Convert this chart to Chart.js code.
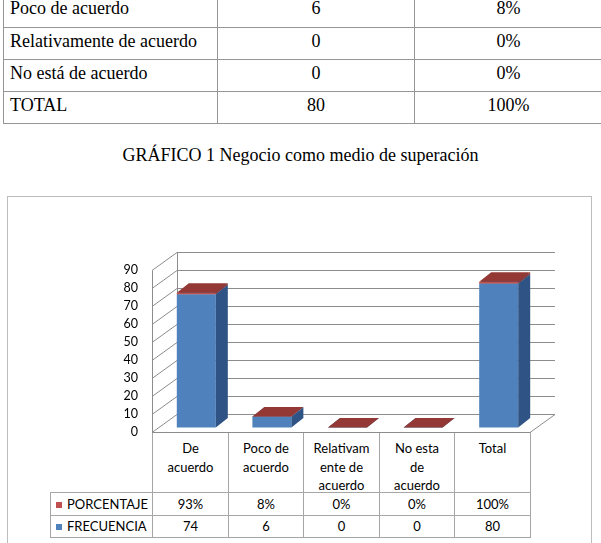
<!DOCTYPE html>
<html>
<head>
<meta charset="utf-8">
<script src="https://cdn.jsdelivr.net/npm/chart.js@4/dist/chart.umd.min.js"></script>
<style>
  html, body { margin: 0; padding: 0; background: #fff; }
  body { position: relative; width: 601px; height: 543px; overflow: hidden; }
  .cell { position: absolute; box-sizing: border-box; border: 1px solid #969696; }
  .doc { font-family: "Liberation Serif", "Times New Roman", serif; font-size: 18px; line-height: 20px; color: #000; padding-top: 3px; }
  .xl { font-family: Lato, "Open Sans", sans-serif; font-size: 13px; color: #000; border-color: #a6a6a6; text-align: center; }
  #caption { position: absolute; left: 0; top: 145px; width: 601px; text-align: center;
             font-family: "Liberation Serif", "Times New Roman", serif; font-size: 18px; line-height: 20px; }
  #chartBox { position: absolute; left: 7px; top: 196px; width: 585px; height: 400px;
              box-sizing: border-box; border: 1px solid #bdbdbd; background: #fff; }
  #chart { position: absolute; left: 0; top: 0; }
  .key { display: inline-block; width: 6px; height: 6px; margin-right: 5px; vertical-align: 1px; }
</style>
</head>
<body>
<div id="docTable"></div>
<div id="caption">GRÁFICO 1 Negocio como medio de superación</div>
<div id="chartBox"></div>
<div id="dataTable"></div>
<canvas id="chart" width="601" height="543"></canvas>

<script>
// Chart data
const categories = ['De acuerdo', 'Poco de acuerdo', 'Relativamente de acuerdo', 'No esta de acuerdo', 'Total'];
const categoryLines = [['De', 'acuerdo'], ['Poco de', 'acuerdo'], ['Relativam', 'ente de', 'acuerdo'], ['No esta', 'de', 'acuerdo'], ['Total']];
const frecuencia = [74, 6, 0, 0, 80];
const porcentaje = [0.93, 0.08, 0, 0, 1.00];
const yTicks = { min: 0, max: 90, step: 10 };

// Document table rows above the chart
const docRows = [
    ['Poco de acuerdo', '6', '8%'],
    ['Relativamente de acuerdo', '0', '0%'],
    ['No está de acuerdo', '0', '0%'],
    ['TOTAL', '80', '100%']
];

// 3D look: wall depth, bar offset and bar depth
const WALL_DX = 25, WALL_DY = -18;
const BAR_OFF_X = 6.5, BAR_OFF_Y = -4.5;
const BAR_DX = 12, BAR_DY = -9.5;
const GRID_COLOR = '#8c8c8c';

function cell(parent, x0, y0, x1, y1, html, cls, extra) {
    const d = document.createElement('div');
    d.className = 'cell ' + cls;
    d.style.left = x0 + 'px';
    d.style.top = y0 + 'px';
    d.style.width = (x1 - x0 + 1) + 'px';
    d.style.height = (y1 - y0 + 1) + 'px';
    if (extra) Object.assign(d.style, extra);
    d.innerHTML = html;
    parent.appendChild(d);
    return d;
}

// Build document table
(function () {
    const host = document.getElementById('docTable');
    const rowY = [-6, 27, 59, 91, 123];
    const colX = [3, 217, 414, 602];
    docRows.forEach((row, r) => {
        row.forEach((txt, c) => {
            cell(host, colX[c], rowY[r], colX[c + 1], rowY[r + 1], txt, 'doc',
                c === 0 ? { paddingLeft: '6px', textAlign: 'left' } : { textAlign: 'center' });
        });
    });
})();

const box3d = {
    id: 'box3d',
    beforeDatasetsDraw(chart) {
        const ctx = chart.ctx;
        const y = chart.scales.y;
        const area = chart.chartArea;
        const l = area.left, r = area.right;
        ctx.save();
        ctx.strokeStyle = GRID_COLOR;
        ctx.lineWidth = 1;
        ctx.beginPath();
        for (let v = yTicks.min; v <= yTicks.max; v += yTicks.step) {
            const py = Math.round(y.getPixelForValue(v)) + 0.5;
            // back wall line
            ctx.moveTo(l + WALL_DX, py + WALL_DY);
            ctx.lineTo(r + WALL_DX, py + WALL_DY);
            // side wall line
            ctx.moveTo(l, py);
            ctx.lineTo(l + WALL_DX, py + WALL_DY);
        }
        const top = Math.round(y.getPixelForValue(yTicks.max)) + 0.5;
        const base = Math.round(y.getPixelForValue(0)) + 0.5;
        // side wall edges
        ctx.moveTo(l + 0.5, top);
        ctx.lineTo(l + 0.5, base);
        ctx.moveTo(l + WALL_DX + 0.5, top + WALL_DY);
        ctx.lineTo(l + WALL_DX + 0.5, base + WALL_DY);
        // floor
        ctx.moveTo(l, base);
        ctx.lineTo(r, base);
        ctx.lineTo(r + WALL_DX, base + WALL_DY);
        ctx.stroke();
        ctx.restore();
    },
    beforeDatasetDraw() {
        return false; // drawn below, bottom segment first
    },
    afterDatasetsDraw(chart) {
        const ctx = chart.ctx;
        ctx.save();
        ctx.translate(BAR_OFF_X, BAR_OFF_Y);
        chart.getSortedVisibleDatasetMetas().forEach(meta => {
            const ds = chart.data.datasets[meta.index];
            meta.controller.draw();
            meta.data.forEach(bar => {
                const p = bar.getProps(['x', 'y', 'base', 'width'], true);
                const left = p.x - p.width / 2, right = p.x + p.width / 2;
                const t = Math.min(p.y, p.base), b = Math.max(p.y, p.base);
                if (b - t > 0.2) {
                    ctx.fillStyle = ds.sideColor;
                    ctx.beginPath();
                    ctx.moveTo(right, t);
                    ctx.lineTo(right + BAR_DX, t + BAR_DY);
                    ctx.lineTo(right + BAR_DX, b + BAR_DY);
                    ctx.lineTo(right, b);
                    ctx.closePath();
                    ctx.fill();
                }
                ctx.fillStyle = ds.topColor;
                ctx.beginPath();
                ctx.moveTo(left, t);
                ctx.lineTo(left + BAR_DX, t + BAR_DY);
                ctx.lineTo(right + BAR_DX, t + BAR_DY);
                ctx.lineTo(right, t);
                ctx.closePath();
                ctx.fill();
            });
        });
        ctx.restore();
    }
};

Chart.defaults.font.family = 'Lato, "Open Sans", sans-serif';

const chart = new Chart(document.getElementById('chart'), {
    type: 'bar',
    data: {
        labels: categories,
        datasets: [
            {
                label: 'FRECUENCIA',
                data: frecuencia,
                backgroundColor: '#4f81bd',
                sideColor: '#2f5384',
                topColor: '#3d6aa0'
            },
            {
                label: 'PORCENTAJE',
                data: porcentaje,
                backgroundColor: '#c0504d',
                sideColor: '#8a3431',
                topColor: '#933835'
            }
        ]
    },
    options: {
        responsive: false,
        animation: false,
        layout: { padding: { left: 0, top: 270, right: 71, bottom: 111 } },
        datasets: { bar: { categoryPercentage: 1, barPercentage: 0.516, borderWidth: 0 } },
        plugins: { legend: { display: false }, tooltip: { enabled: false } },
        scales: {
            x: { stacked: true, display: false },
            y: {
                stacked: true,
                min: yTicks.min,
                max: yTicks.max,
                ticks: { stepSize: yTicks.step, padding: 14, color: '#000', font: { size: 12.5 } },
                grid: { display: false, drawTicks: false },
                border: { display: false },
                afterFit(scale) { scale.width = 152; }
            }
        }
    },
    plugins: [box3d]
});

// Data table under the chart, columns taken from the x scale
(function () {
    const host = document.getElementById('dataTable');
    const xs = chart.scales.x;
    const slot = (xs.right - xs.left) / categories.length;
    const bounds = [50];
    categories.forEach((c, i) => bounds.push(Math.round(xs.getPixelForValue(i) - slot / 2)));
    bounds.push(Math.round(xs.right));
    const rowsY = [Math.round(chart.scales.y.getPixelForValue(0)), 492, 515, 537];

    categoryLines.forEach((lines, i) => {
        cell(host, bounds[i + 1], rowsY[0], bounds[i + 2], rowsY[1], lines.join('<br>'), 'xl',
            { paddingTop: '6px', lineHeight: '18.5px' });
    });
    const series = [
        { name: 'PORCENTAJE', color: '#c0504d', values: porcentaje.map(v => Math.round(v * 100) + '%') },
        { name: 'FRECUENCIA', color: '#4f81bd', values: frecuencia.map(v => String(v)) }
    ];
    series.forEach((s, r) => {
        const y0 = rowsY[r + 1], y1 = rowsY[r + 2];
        const lh = (y1 - y0 - 1) + 'px';
        cell(host, bounds[0], y0, bounds[1], y1,
            '<span class="key" style="background:' + s.color + '"></span>' + s.name, 'xl',
            { textAlign: 'left', paddingLeft: '5px', lineHeight: lh });
        s.values.forEach((v, i) => {
            cell(host, bounds[i + 1], y0, bounds[i + 2], y1, v, 'xl', { lineHeight: lh });
        });
    });
})();
</script>
</body>
</html>
